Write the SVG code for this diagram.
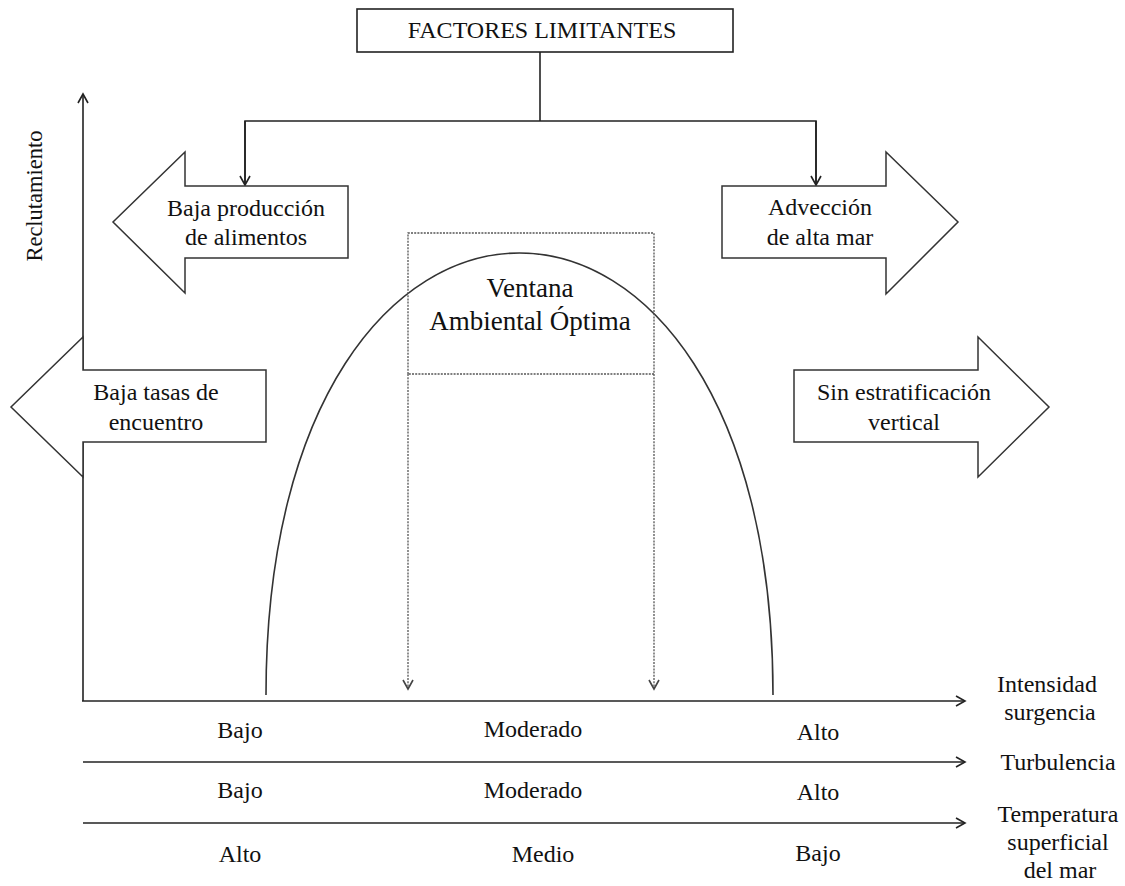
<svg xmlns="http://www.w3.org/2000/svg" width="1125" height="886" viewBox="0 0 1125 886">
  <style>
    text { font-family: 'Liberation Serif', 'Times New Roman', Times, 'DejaVu Serif', serif; font-size: 24px; fill: #111; }
    .c { text-anchor: middle; }
    .box { fill: #fff; stroke: #222; stroke-width: 1.6; }
    .big { fill: #fff; stroke: #333; stroke-width: 1.5; stroke-linejoin: miter; }
    .ln { fill: none; stroke: #222; stroke-width: 1.6; }
    .dot { fill: none; stroke: #555; stroke-width: 1.3; stroke-dasharray: 2 1.2; }
    .curve { fill: none; stroke: #333; stroke-width: 1.6; }
  </style>
  <defs>
    <marker id="ah" markerUnits="userSpaceOnUse" markerWidth="14" markerHeight="14" refX="10" refY="6" orient="auto">
      <path d="M1,1 L10,6 L1,11" fill="none" stroke="#222" stroke-width="1.6"/>
    </marker>
    <marker id="ahd" markerUnits="userSpaceOnUse" markerWidth="14" markerHeight="14" refX="10" refY="6" orient="auto">
      <path d="M1,1 L10,6 L1,11" fill="none" stroke="#444" stroke-width="1.6"/>
    </marker>
  </defs>
  <rect width="1125" height="886" fill="#fff"/>

  <g id="connectors">
    <line class="ln" x1="83" y1="701" x2="83" y2="94" marker-end="url(#ah)"/>
    <line class="ln" x1="82" y1="701" x2="965" y2="701" marker-end="url(#ah)"/>
    <line class="ln" x1="83" y1="762" x2="965" y2="762" marker-end="url(#ah)"/>
    <line class="ln" x1="83" y1="823" x2="965" y2="823" marker-end="url(#ah)"/>
    <line class="ln" x1="540" y1="52" x2="540" y2="121"/>
    <polyline class="ln" points="245,185 245,121 816,121 816,185"/>
    <line class="ln" x1="245" y1="121" x2="245" y2="185" marker-end="url(#ah)"/>
    <line class="ln" x1="816" y1="121" x2="816" y2="185" marker-end="url(#ah)"/>
    <line class="dot" x1="408" y1="374" x2="408" y2="689" marker-end="url(#ahd)"/>
    <line class="dot" x1="654" y1="374" x2="654" y2="689" marker-end="url(#ahd)"/>
  </g>

  <g id="curve">
    <path class="curve" d="M266,695 C266,105.7 773,105.7 773,695"/>
  </g>

  <g id="factores-limitantes">
    <rect class="box" x="357" y="9" width="376" height="43"/>
    <text class="c" x="542" y="38" font-family="Liberation Serif">FACTORES LIMITANTES</text>
  </g>

  <g id="baja-produccion">
    <polygon class="big" points="348,186 185,186 185,152 113,222 185,293 185,258 348,258"/>
    <text class="c" x="246" y="216">Baja producción</text>
    <text class="c" x="246" y="245">de alimentos</text>
  </g>

  <g id="adveccion">
    <polygon class="big" points="722,186 886,186 886,152 958,222 886,294 886,258 722,258"/>
    <text class="c" x="820" y="215">Advección</text>
    <text class="c" x="820" y="245">de alta mar</text>
  </g>

  <g id="baja-tasas">
    <polygon class="big" points="266,370 83,370 83,337 11,407 83,477 83,442 266,442"/>
    <text class="c" x="156" y="400">Baja tasas de</text>
    <text class="c" x="156" y="430">encuentro</text>
  </g>

  <g id="sin-estratificacion">
    <polygon class="big" points="794,370 978,370 978,337 1049,407 978,477 978,442 794,442"/>
    <text class="c" x="904" y="400">Sin estratificación</text>
    <text class="c" x="904" y="430">vertical</text>
  </g>

  <g id="ventana">
    <polyline class="dot" points="408,374 408,233 654,233 654,374 408,374"/>
    <text class="c" x="530" y="297" style="font-size:27px">Ventana</text>
    <text class="c" x="530" y="330" style="font-size:27px">Ambiental Óptima</text>
  </g>

  <g id="reclutamiento">
    <text class="c" x="42" y="196" transform="rotate(-90 42 196)" style="font-size:22.5px">Reclutamiento</text>
  </g>

  <g id="axis-labels">
    <text class="c" x="1047" y="692">Intensidad</text>
    <text class="c" x="1050" y="720">surgencia</text>
    <text class="c" x="1058" y="770">Turbulencia</text>
    <text class="c" x="1058" y="822">Temperatura</text>
    <text class="c" x="1058" y="850">superficial</text>
    <text class="c" x="1060" y="878">del mar</text>
  </g>

  <g id="scale-labels">
    <text class="c" x="240" y="738">Bajo</text>
    <text class="c" x="533" y="737">Moderado</text>
    <text class="c" x="818" y="740">Alto</text>
    <text class="c" x="240" y="798">Bajo</text>
    <text class="c" x="533" y="798">Moderado</text>
    <text class="c" x="818" y="800">Alto</text>
    <text class="c" x="240" y="862">Alto</text>
    <text class="c" x="543" y="862">Medio</text>
    <text class="c" x="818" y="861">Bajo</text>
  </g>
</svg>
